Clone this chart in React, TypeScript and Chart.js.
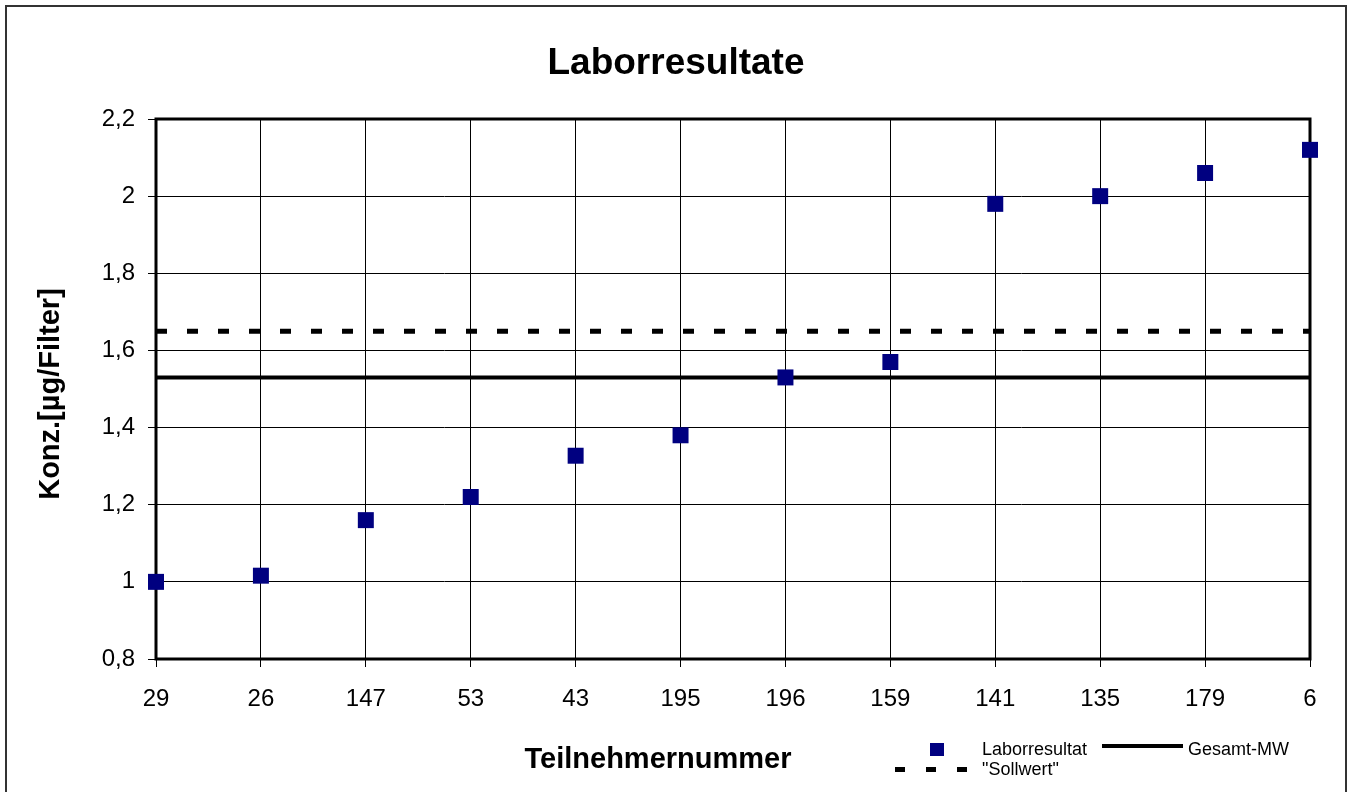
import React, { useEffect, useRef } from 'react';
import { Chart, registerables } from 'chart.js';

Chart.register(...registerables);

const participants = ['29', '26', '147', '53', '43', '195', '196', '159', '141', '135', '179', '6'];
const labResults = [1.0, 1.016, 1.16, 1.22, 1.327, 1.38, 1.53, 1.57, 1.98, 2.0, 2.06, 2.12];
const overallMean = 1.53;
const targetValue = 1.65;
const yMin = 0.8;
const yMax = 2.2;
const yStep = 0.2;
const chartTitle = 'Laborresultate';
const xTitle = 'Teilnehmernummer';
const yTitle = 'Konz.[µg/Filter]';
const legendLabels = ['Laborresultat', 'Gesamt-MW', '"Sollwert"'];

const FONT = '"Liberation Sans", Arial, sans-serif';

const overlay = {
  id: 'overlay',
  beforeDatasetsDraw(chart: any) {
    const { ctx, chartArea } = chart;
    const { left, top, right, bottom } = chartArea;
    ctx.save();
    ctx.strokeStyle = '#000';
    ctx.lineWidth = 3;
    ctx.strokeRect(left, top, right - left, bottom - top);
    ctx.restore();
  },
  afterDraw(chart: any) {
    const { ctx } = chart;
    ctx.save();
    // outer border
    ctx.strokeStyle = '#333';
    ctx.lineWidth = 2;
    ctx.beginPath();
    ctx.moveTo(6, 800);
    ctx.lineTo(6, 6);
    ctx.lineTo(1346, 6);
    ctx.lineTo(1346, 800);
    ctx.stroke();

    ctx.fillStyle = '#000';
    ctx.textBaseline = 'alphabetic';
    ctx.textAlign = 'center';
    ctx.font = `bold 37px ${FONT}`;
    ctx.fillText(chartTitle, 676, 74);

    ctx.font = `bold 29px ${FONT}`;
    ctx.fillText(xTitle, 658, 768);

    ctx.save();
    ctx.translate(59, 394);
    ctx.rotate(-Math.PI / 2);
    ctx.fillText(yTitle, 0, 0);
    ctx.restore();

    // legend
    ctx.fillStyle = '#000080';
    ctx.fillRect(930, 743, 14, 13);
    ctx.fillStyle = '#000';
    ctx.textAlign = 'left';
    ctx.font = `18px ${FONT}`;
    ctx.fillText(legendLabels[0], 982, 755);
    ctx.fillText(legendLabels[1], 1188, 755);
    ctx.fillText(legendLabels[2], 982, 775);

    ctx.strokeStyle = '#000';
    ctx.lineWidth = 4;
    ctx.beginPath();
    ctx.moveTo(1102, 746);
    ctx.lineTo(1183, 746);
    ctx.stroke();

    ctx.lineWidth = 5;
    ctx.setLineDash([10, 21]);
    ctx.beginPath();
    ctx.moveTo(895, 769.5);
    ctx.lineTo(968, 769.5);
    ctx.stroke();
    ctx.restore();
  },
};

export default function App() {
  const ref = useRef<HTMLCanvasElement>(null);

  useEffect(() => {
    document.body.style.margin = '0';
    Chart.defaults.font.family = FONT;
    const chart = new Chart(ref.current as HTMLCanvasElement, {
      type: 'line',
      data: {
        labels: participants,
        datasets: [
          {
            label: legendLabels[0],
            data: labResults,
            showLine: false,
            pointStyle: 'rect',
            pointRadius: 11.3,
            pointBackgroundColor: '#000080',
            pointBorderColor: '#000080',
            pointBorderWidth: 0,
            backgroundColor: '#000080',
            borderColor: '#000080',
            clip: false,
          } as any,
          {
            label: legendLabels[1],
            data: participants.map(() => overallMean),
            borderColor: '#000',
            borderWidth: 4,
            pointRadius: 0,
            fill: false,
          },
          {
            label: legendLabels[2],
            data: participants.map(() => targetValue),
            borderColor: '#000',
            borderWidth: 5,
            borderDash: [11, 20],
            pointRadius: 0,
            fill: false,
          },
        ],
      },
      options: {
        animation: false,
        responsive: false,
        layout: { padding: { top: 119, right: 42, left: 0, bottom: 0 } },
        plugins: {
          legend: { display: false },
          title: { display: false },
          tooltip: { enabled: false },
        },
        scales: {
          x: {
            type: 'category',
            offset: false,
            grid: { color: '#000', lineWidth: 1, tickLength: 8, drawTicks: true },
            border: { display: false },
            ticks: {
              color: '#000',
              font: { size: 24, family: FONT },
              padding: 18,
              maxRotation: 0,
              autoSkip: false,
            },
            afterFit: (s: any) => {
              s.height = 133;
            },
          },
          y: {
            min: yMin,
            max: yMax,
            grid: { color: '#000', lineWidth: 1, tickLength: 8, drawTicks: true },
            border: { display: false },
            ticks: {
              stepSize: yStep,
              color: '#000',
              font: { size: 24, family: FONT },
              padding: 13,
              callback: (v: any) => String(Number(Number(v).toFixed(1))).replace('.', ','),
            },
            afterFit: (s: any) => {
              s.width = 156;
            },
          },
        },
      },
      plugins: [overlay],
    });
    return () => chart.destroy();
  }, []);

  return (
    <div style={{ position: 'absolute', left: 0, top: 0, width: 1352, height: 792 }}>
      <canvas ref={ref} width={1352} height={792} style={{ display: 'block' }} />
    </div>
  );
}
